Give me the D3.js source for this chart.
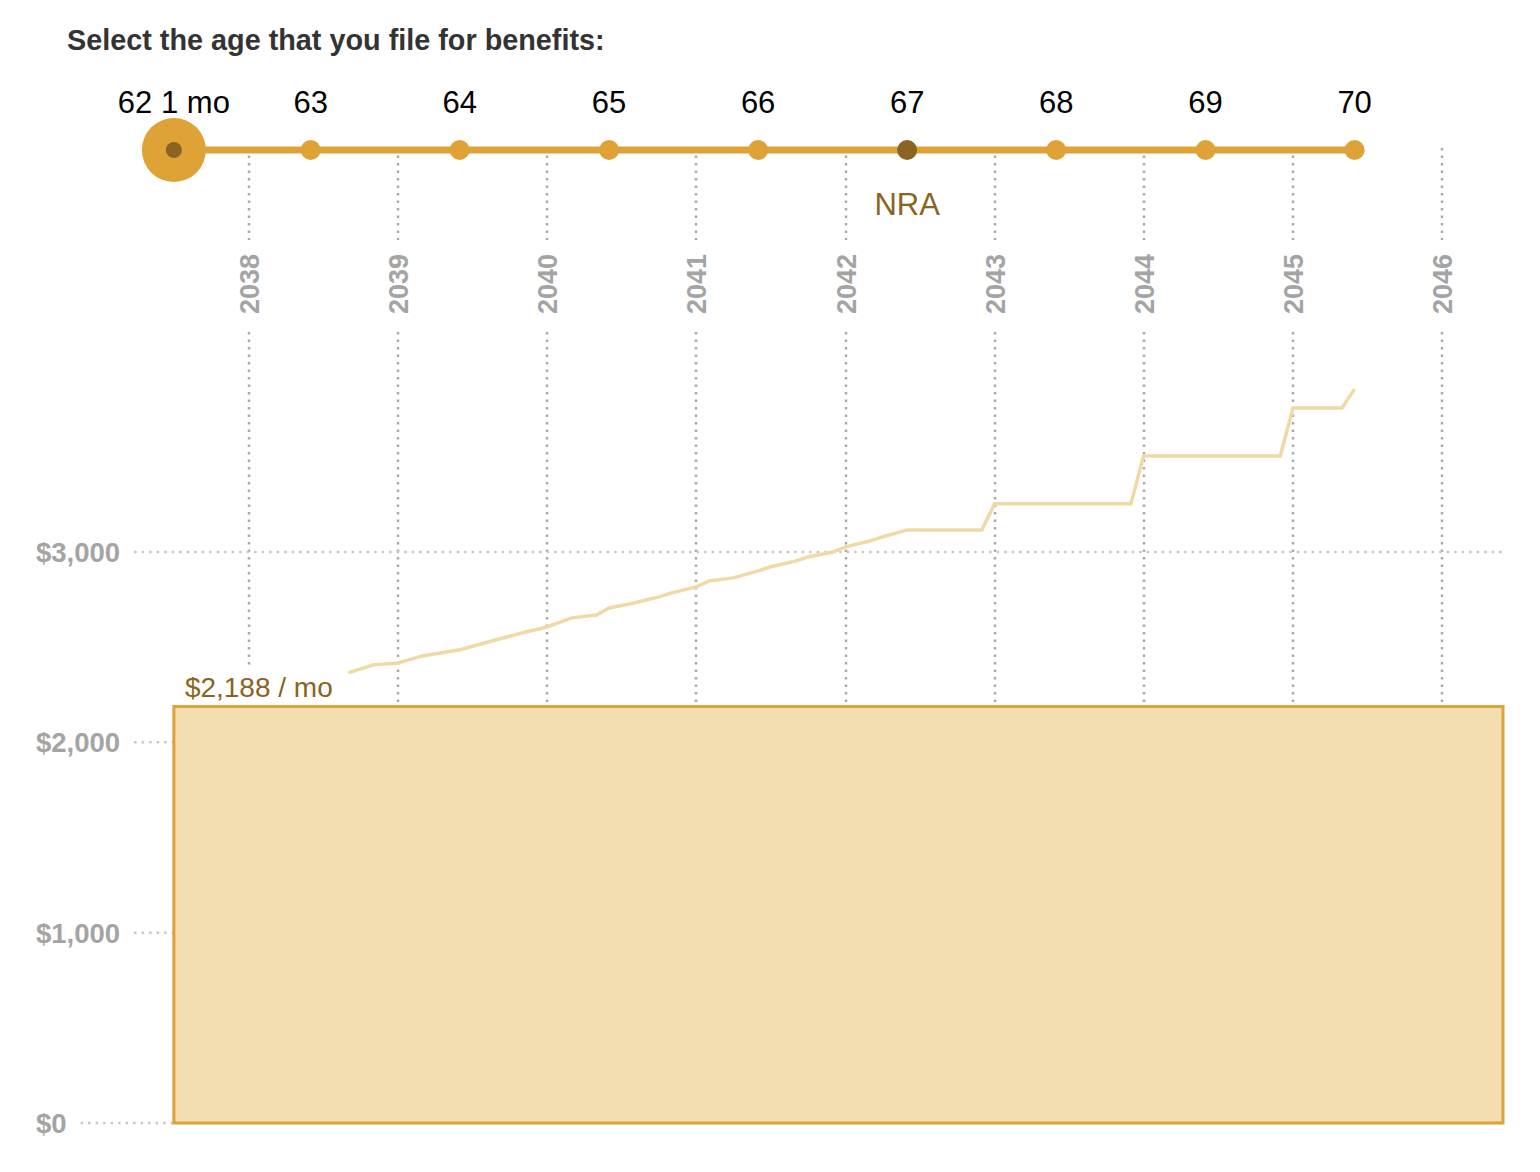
<!DOCTYPE html>
<html>
<head>
<meta charset="utf-8">
<script src="https://cdn.jsdelivr.net/npm/d3@7"></script>
<style>
  body { margin: 0; background: #fff; }
  text { font-family: "Liberation Sans", Arial, Helvetica, sans-serif; }
</style>
</head>
<body>
<div id="chart"></div>
<script>
// Width and height
var chart_width  = 1540;
var chart_height = 1172;

// data
var birth_month   = "1975-06";
var age_labels    = ["62 1 mo", "63", "64", "65", "66", "67", "68", "69", "70"];
var age_months    = [745, 756, 768, 780, 792, 804, 816, 828, 840];
var nra_index     = 5;
var selected_idx  = 0;
var selected_benefit = 2188;

var year_ticks    = [2038, 2039, 2040, 2041, 2042, 2043, 2044, 2045, 2046];
var dollar_ticks  = [0, 1000, 2000, 3000];

// benefit if filing later
var benefit_months = ["2038-09", "2038-11", "2039-01", "2039-03", "2039-06", "2039-08", "2039-11",
                      "2040-01", "2040-03", "2040-05", "2040-06", "2040-08", "2040-10", "2040-11",
                      "2041-01", "2041-02", "2041-04", "2041-06", "2041-07", "2041-09", "2041-10", "2041-12",
                      "2042-01", "2042-03", "2042-04", "2042-06", "2042-12",
                      "2043-01", "2043-12", "2044-01", "2044-12", "2045-01", "2045-05", "2045-06"];
var benefit_values = [2365, 2407, 2417, 2454, 2486, 2522, 2575,
                      2606, 2654, 2669, 2706, 2732, 2764, 2785,
                      2817, 2848, 2864, 2901, 2922, 2953, 2974, 3000,
                      3027, 3058, 3079, 3116, 3116,
                      3253, 3253, 3505, 3505, 3757, 3757, 3857];

var parseMonth = d3.timeParse("%Y-%m");
var birth = parseMonth(birth_month);
var age_dates = age_months.map(function(m){ return d3.timeMonth.offset(birth, m); });

var gold = "#dea236";
var dark_gold = "#8a6420";
var grid_gray = "#aaaaaa";

// scales
var x = d3.scaleTime()
    .domain([new Date(2038, 0, 1), new Date(2046, 0, 1)])
    .range([249, 1442]);
var y = d3.scaleLinear()
    .domain([0, 3000])
    .range([1123, 552]);

var plot_right = 1503;
var slider_y = 150;

var svg = d3.select("#chart")
    .append("svg")
    .attr("width", chart_width)
    .attr("height", chart_height);

// title
svg.append("text")
    .attr("x", 67).attr("y", 50)
    .attr("font-size", 28.8).attr("font-weight", "bold")
    .attr("fill", "#333")
    .text("Select the age that you file for benefits:");

// vertical year gridlines + rotated labels
var years = svg.append("g").selectAll("g")
    .data(year_ticks)
    .enter()
    .append("g")
    .attr("transform", function(d){ return "translate(" + Math.round(x(new Date(d, 0, 1))) + ",0)"; });

years.append("line")
    .attr("y1", 148).attr("y2", 240)
    .attr("stroke", grid_gray).attr("stroke-width", 2.5)
    .attr("stroke-dasharray", "2.5,5");
years.append("line")
    .attr("y1", 332).attr("y2", y(0))
    .attr("stroke", grid_gray).attr("stroke-width", 2.5)
    .attr("stroke-dasharray", "2.5,5");
years.append("text")
    .attr("transform", "translate(10,314) rotate(-90)")
    .attr("font-size", 27).attr("font-weight", "bold")
    .attr("fill", "#a4a4a4")
    .text(function(d){ return d; });

// horizontal dollar gridlines + labels
var dollars = svg.append("g").selectAll("g")
    .data(dollar_ticks)
    .enter()
    .append("g")
    .attr("transform", function(d){ return "translate(0," + y(d) + ")"; });

dollars.append("text")
    .attr("x", 36).attr("y", 10)
    .attr("font-size", 27.5).attr("font-weight", "bold")
    .attr("fill", "#a4a4a4")
    .text(function(d){ return d3.format("$,")(d); });

dollars.append("line")
    .attr("x1", function(){ return 36 + this.parentNode.querySelector("text").getComputedTextLength() + 14; })
    .attr("x2", plot_right)
    .attr("stroke", "#c8c8c8").attr("stroke-width", 2.5)
    .attr("stroke-dasharray", "2.5,5");

// selected benefit block
svg.append("rect")
    .attr("x", x(age_dates[selected_idx]))
    .attr("y", y(selected_benefit))
    .attr("width", plot_right - x(age_dates[selected_idx]))
    .attr("height", y(0) - y(selected_benefit))
    .attr("fill", "#f2deb1")
    .attr("stroke", gold)
    .attr("stroke-width", 3);

// line of later benefits
var line = d3.line()
    .x(function(d){ return x(parseMonth(d[0])); })
    .y(function(d){ return y(d[1]); });

svg.append("path")
    .datum(d3.zip(benefit_months, benefit_values))
    .attr("d", line)
    .attr("fill", "none")
    .attr("stroke", "#f1d9a6")
    .attr("stroke-width", 3.5);

// benefit label with white background
var lbl = svg.append("g");
var lbl_text = lbl.append("text")
    .attr("x", x(age_dates[selected_idx]) + 11)
    .attr("y", y(selected_benefit) - 10)
    .attr("font-size", 28)
    .attr("fill", dark_gold)
    .text(d3.format("$,")(selected_benefit) + " / mo");
var bb = lbl_text.node().getBBox();
lbl.insert("rect", "text")
    .attr("x", bb.x - 4).attr("y", bb.y - 6)
    .attr("width", bb.width + 8).attr("height", bb.height + 6)
    .attr("fill", "#fff");

// age slider
var slider = svg.append("g");
slider.append("line")
    .attr("x1", x(age_dates[0])).attr("x2", x(age_dates[age_dates.length - 1]))
    .attr("y1", slider_y).attr("y2", slider_y)
    .attr("stroke", gold).attr("stroke-width", 7);

slider.selectAll("circle.stop")
    .data(age_dates)
    .enter()
    .append("circle")
    .attr("class", "stop")
    .attr("cx", function(d){ return x(d); })
    .attr("cy", slider_y)
    .attr("r", function(d, i){ return i === selected_idx ? 32 : 10; })
    .attr("fill", function(d, i){ return i === nra_index ? dark_gold : gold; });

slider.append("circle")
    .attr("cx", x(age_dates[selected_idx]))
    .attr("cy", slider_y)
    .attr("r", 8)
    .attr("fill", dark_gold);

slider.selectAll("text.age")
    .data(age_labels)
    .enter()
    .append("text")
    .attr("class", "age")
    .attr("x", function(d, i){ return x(age_dates[i]); })
    .attr("y", 113)
    .attr("text-anchor", "middle")
    .attr("font-size", 31)
    .attr("fill", "#000")
    .text(function(d){ return d; });

slider.append("text")
    .attr("x", x(age_dates[nra_index]))
    .attr("y", 215)
    .attr("text-anchor", "middle")
    .attr("font-size", 31)
    .attr("fill", dark_gold)
    .text("NRA");
</script>
</body>
</html>
